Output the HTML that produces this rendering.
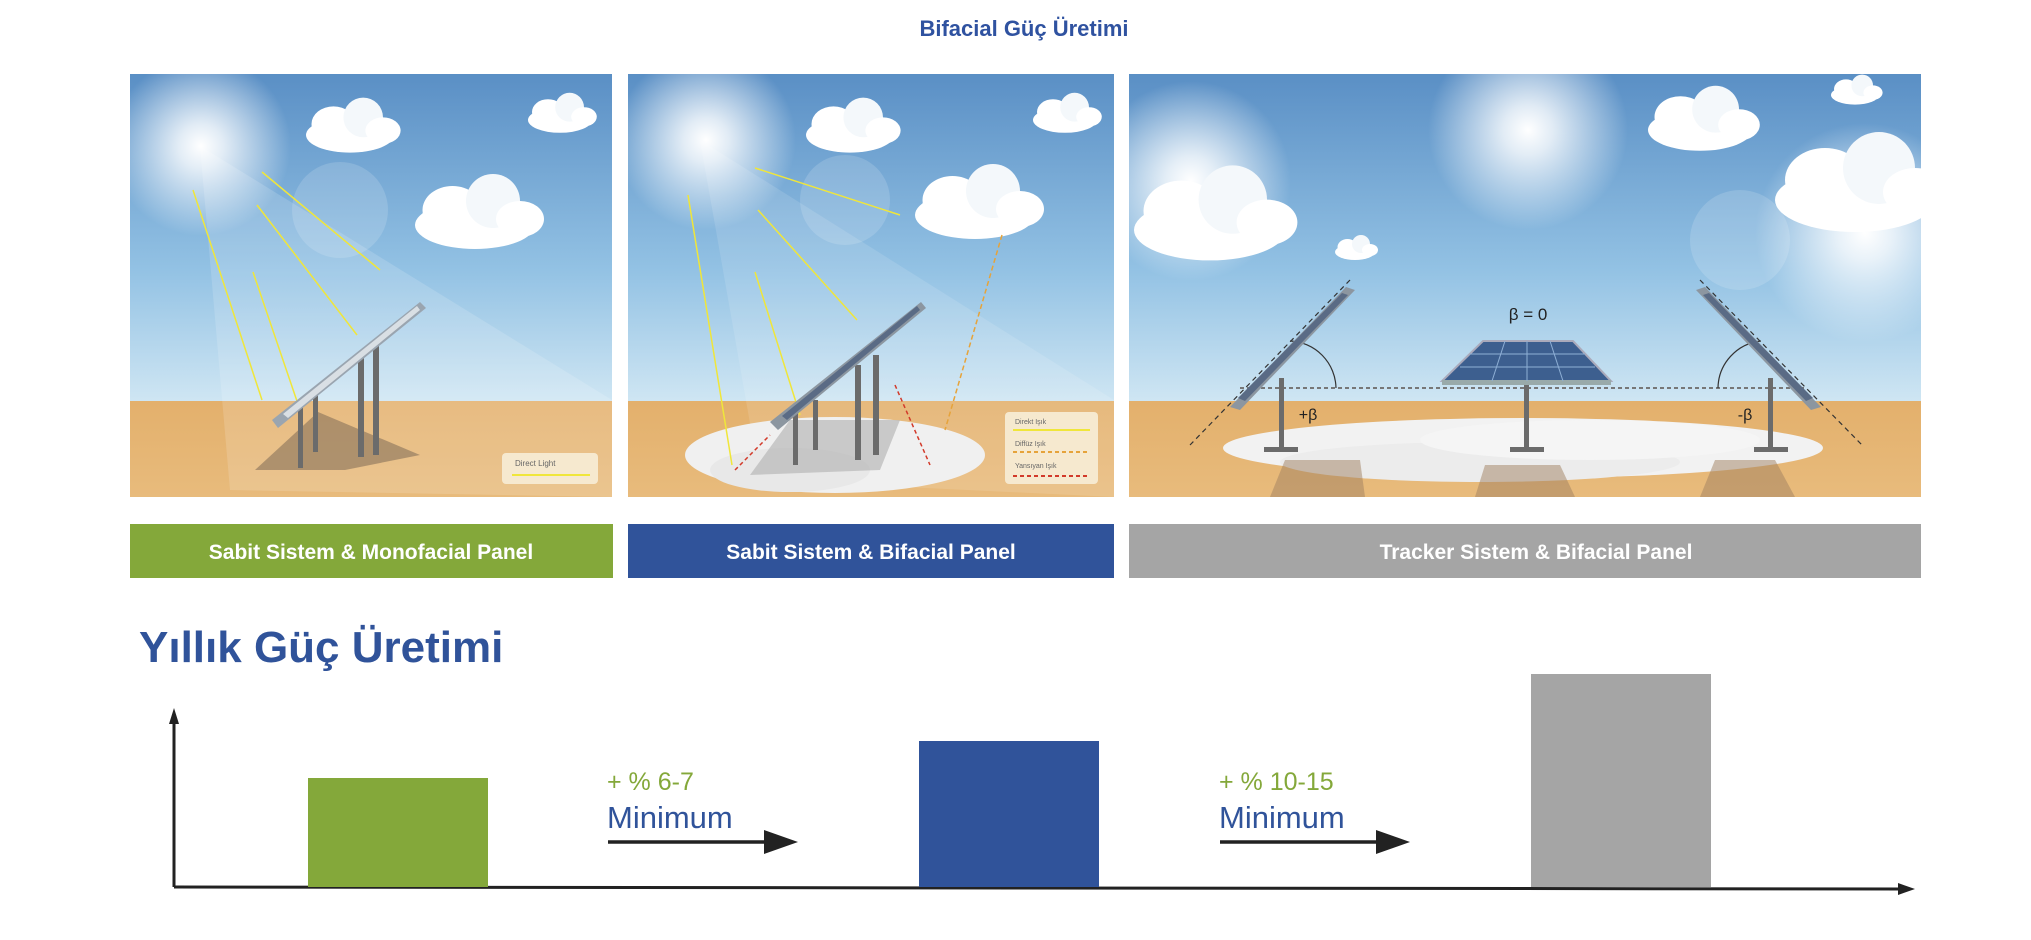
<!DOCTYPE html>
<html><head><meta charset="utf-8"><style>
html,body{margin:0;padding:0;background:#fff;}
svg{display:block}
text{font-family:"Liberation Sans","DejaVu Sans",sans-serif;}
</style></head><body>
<svg width="2031" height="940" viewBox="0 0 2031 940" xmlns="http://www.w3.org/2000/svg">
<defs>
<linearGradient id="sky" x1="0" y1="0" x2="0" y2="1">
<stop offset="0" stop-color="#5a8fc5"/><stop offset="0.6" stop-color="#93c2e4"/><stop offset="1" stop-color="#cfe6f3"/>
</linearGradient>
<linearGradient id="sand" x1="0" y1="0" x2="0" y2="1">
<stop offset="0" stop-color="#e3b06c"/><stop offset="1" stop-color="#e8bb7c"/>
</linearGradient>
<radialGradient id="sun"><stop offset="0" stop-color="#fff" stop-opacity="1"/><stop offset="0.25" stop-color="#fff" stop-opacity="0.8"/><stop offset="1" stop-color="#fff" stop-opacity="0"/></radialGradient>
<clipPath id="c3"><rect x="1129" y="74" width="792" height="423"/></clipPath>
<g id="cloud"><ellipse cx="0" cy="0" rx="40" ry="16" fill="#fff"/><ellipse cx="-15" cy="-10" rx="20" ry="16" fill="#fff"/><ellipse cx="12" cy="-16" rx="18" ry="18" fill="#f4f8fb"/><ellipse cx="30" cy="-4" rx="16" ry="12" fill="#fff"/></g>
</defs>

<text x="1024" y="36" text-anchor="middle" font-size="22" font-weight="bold" fill="#2f52a0">Bifacial Güç Üretimi</text>

<!-- Panel 1 -->
<g>
<rect x="130" y="74" width="482" height="328" fill="url(#sky)"/>
<rect x="130" y="401" width="482" height="96" fill="url(#sand)"/>
<polygon points="200,146 612,400 612,497 230,490" fill="#fff" opacity="0.15"/>
<circle cx="201" cy="146" r="90" fill="url(#sun)"/>
<circle cx="340" cy="210" r="48" fill="#fff" opacity="0.15"/>
<use href="#cloud" transform="translate(350,135) scale(1.1)"/>
<use href="#cloud" transform="translate(560,120) scale(0.8)"/>
<use href="#cloud" transform="translate(475,225) scale(1.5)"/>
<polygon points="255,470 318,412 420,455 345,470" fill="#7d6a55" opacity="0.55"/>
<g stroke="#f0e63a" stroke-width="1.5" fill="none">
<line x1="193" y1="190" x2="262" y2="400"/><line x1="253" y1="272" x2="300" y2="410"/>
<line x1="257" y1="205" x2="357" y2="335"/><line x1="262" y1="172" x2="380" y2="270"/>
</g>
<g fill="#6b6b6b"><rect x="298" y="400" width="5" height="68"/><rect x="313" y="392" width="5" height="60"/><rect x="358" y="355" width="6" height="102"/><rect x="373" y="345" width="6" height="110"/></g>
<polygon points="420,302 272,420 278,428 426,308" fill="#9aa5b0"/>
<polygon points="417,306 283,414 288,418 420,310" fill="#d9dfe4"/>
<rect x="502" y="453" width="96" height="31" rx="4" fill="#f6e9cf"/>
<text x="515" y="466" font-size="8" fill="#666">Direct Light</text>
<line x1="512" y1="475" x2="590" y2="475" stroke="#f0e63a" stroke-width="2"/>
</g>

<!-- Panel 2 -->
<g>
<rect x="628" y="74" width="486" height="328" fill="url(#sky)"/>
<rect x="628" y="401" width="486" height="96" fill="url(#sand)"/>
<polygon points="700,140 1114,400 1114,497 760,480" fill="#fff" opacity="0.12"/>
<circle cx="706" cy="140" r="90" fill="url(#sun)"/>
<circle cx="845" cy="200" r="45" fill="#fff" opacity="0.15"/>
<use href="#cloud" transform="translate(850,135) scale(1.1)"/>
<use href="#cloud" transform="translate(1065,120) scale(0.8)"/>
<use href="#cloud" transform="translate(975,215) scale(1.5)"/>
<ellipse cx="835" cy="455" rx="150" ry="38" fill="#f0f0f0"/>
<ellipse cx="790" cy="470" rx="80" ry="22" fill="#e8e8e8"/>
<polygon points="750,475 790,420 900,420 880,470" fill="#b8b8b8" opacity="0.7"/>
<g stroke="#f0e63a" stroke-width="1.5" fill="none">
<line x1="688" y1="195" x2="732" y2="465"/><line x1="755" y1="272" x2="800" y2="415"/>
<line x1="758" y1="210" x2="857" y2="320"/><line x1="755" y1="168" x2="900" y2="215"/>
</g>
<line x1="1002" y1="235" x2="945" y2="430" stroke="#e6a33a" stroke-width="1.5" stroke-dasharray="5,3"/>
<line x1="895" y1="385" x2="930" y2="465" stroke="#d23a2a" stroke-width="1.5" stroke-dasharray="4,3"/>
<line x1="735" y1="470" x2="770" y2="435" stroke="#d23a2a" stroke-width="1.5" stroke-dasharray="4,3"/>
<g fill="#6b6b6b"><rect x="793" y="410" width="5" height="55"/><rect x="813" y="400" width="5" height="50"/><rect x="855" y="365" width="6" height="95"/><rect x="873" y="355" width="6" height="100"/></g>
<polygon points="921,302 770,422 778,430 926,308" fill="#8c96a0"/>
<polygon points="917,306 782,416 787,420 920,310" fill="#5a6b85"/>
<rect x="1005" y="412" width="93" height="72" rx="4" fill="#f6e9cf"/>
<text x="1015" y="424" font-size="7" fill="#666">Direkt Işık</text>
<line x1="1013" y1="430" x2="1090" y2="430" stroke="#f0e63a" stroke-width="2"/>
<text x="1015" y="446" font-size="7" fill="#666">Diffüz Işık</text>
<line x1="1013" y1="452" x2="1090" y2="452" stroke="#e6a33a" stroke-width="2" stroke-dasharray="4,3"/>
<text x="1015" y="468" font-size="7" fill="#666">Yansıyan Işık</text>
<line x1="1013" y1="476" x2="1090" y2="476" stroke="#d23a2a" stroke-width="2" stroke-dasharray="4,3"/>
</g>

<!-- Panel 3 -->
<g clip-path="url(#c3)">
<rect x="1129" y="74" width="792" height="328" fill="url(#sky)"/>
<rect x="1129" y="401" width="792" height="96" fill="url(#sand)"/>
<circle cx="1191" cy="181" r="100" fill="url(#sun)"/>
<circle cx="1528" cy="130" r="100" fill="url(#sun)"/>
<circle cx="1865" cy="233" r="110" fill="url(#sun)"/>
<circle cx="1740" cy="240" r="50" fill="#fff" opacity="0.15"/>
<use href="#cloud" transform="translate(1210,230) scale(1.9)"/>
<use href="#cloud" transform="translate(1700,130) scale(1.3)"/>
<use href="#cloud" transform="translate(1855,95) scale(0.6)"/>
<use href="#cloud" transform="translate(1855,200) scale(2)"/>
<use href="#cloud" transform="translate(1355,252) scale(0.5)"/>
<ellipse cx="1523" cy="448" rx="300" ry="30" fill="#f2f2f2"/>
<ellipse cx="1480" cy="462" rx="200" ry="20" fill="#ececec"/>
<ellipse cx="1590" cy="440" rx="170" ry="20" fill="#f5f5f5"/>
<polygon points="1270,497 1285,460 1360,460 1365,497" fill="#a08060" opacity="0.5"/>
<polygon points="1475,497 1485,465 1560,465 1575,497" fill="#a08060" opacity="0.5"/>
<polygon points="1700,497 1715,460 1775,460 1795,497" fill="#a08060" opacity="0.5"/>
<g stroke="#333" stroke-width="1.2" stroke-dasharray="5,4" fill="none">
<line x1="1350" y1="280" x2="1190" y2="445"/><line x1="1700" y1="280" x2="1862" y2="445"/>
</g>
<line x1="1240" y1="388" x2="1806" y2="388" stroke="#777" stroke-width="2" stroke-dasharray="4,3"/>
<path d="M1290,341 A48,48 0 0 1 1336,388" stroke="#333" stroke-width="1.2" fill="none"/>
<path d="M1761,341 A48,48 0 0 0 1718,388" stroke="#333" stroke-width="1.2" fill="none"/>
<g fill="#6b6b6b">
<rect x="1279" y="378" width="5" height="72"/><rect x="1264" y="447" width="34" height="5"/>
<rect x="1524" y="385" width="5" height="65"/><rect x="1510" y="447" width="34" height="5"/>
<rect x="1768" y="378" width="5" height="72"/><rect x="1754" y="447" width="34" height="5"/>
</g>
<polygon points="1346,287 1355,290 1240,410 1230,407" fill="#8c96a0"/>
<polygon points="1342,293 1348,295 1245,401 1238,398" fill="#5a6b85"/>
<polygon points="1705,287 1696,290 1811,410 1821,407" fill="#8c96a0"/>
<polygon points="1709,293 1703,295 1806,401 1813,398" fill="#5a6b85"/>
<polygon points="1483,341 1573,341 1611,381 1442,381" fill="#3d5f8f" stroke="#aab" stroke-width="2"/>
<rect x="1442" y="380" width="169" height="5" fill="#9aa"/>
<g stroke="#8fb0d6" stroke-width="1"><line x1="1470" y1="354" x2="1585" y2="354"/><line x1="1460" y1="367" x2="1595" y2="367"/><line x1="1505" y1="341" x2="1492" y2="381"/><line x1="1550" y1="341" x2="1563" y2="381"/><line x1="1527" y1="341" x2="1527" y2="381"/></g>
<text x="1528" y="320" text-anchor="middle" font-size="17" fill="#222">β = 0</text>
<text x="1308" y="420" text-anchor="middle" font-size="16" fill="#222">+β</text>
<text x="1745" y="420" text-anchor="middle" font-size="16" fill="#222">-β</text>
</g>

<!-- Labels -->
<rect x="130" y="524" width="483" height="54" fill="#84a83a"/>
<text x="371" y="559" text-anchor="middle" font-size="21" font-weight="bold" fill="#fff">Sabit Sistem &amp; Monofacial Panel</text>
<rect x="628" y="524" width="486" height="54" fill="#30539a"/>
<text x="871" y="559" text-anchor="middle" font-size="21" font-weight="bold" fill="#fff">Sabit Sistem &amp; Bifacial Panel</text>
<rect x="1129" y="524" width="792" height="54" fill="#a5a5a5"/>
<text x="1536" y="559" text-anchor="middle" font-size="21" font-weight="bold" fill="#fff">Tracker Sistem &amp; Bifacial Panel</text>

<text x="139" y="662" font-size="44" font-weight="bold" fill="#30539a">Yıllık Güç Üretimi</text>

<!-- Chart -->
<line x1="174" y1="716" x2="174" y2="887" stroke="#222" stroke-width="3"/>
<polygon points="174,708 169,724 179,724" fill="#222"/>
<line x1="174" y1="887" x2="1905" y2="889" stroke="#222" stroke-width="3"/>
<polygon points="1915,889 1898,883 1898,895" fill="#222"/>
<rect x="308" y="778" width="180" height="109" fill="#84a83a"/>
<rect x="919" y="741" width="180" height="146" fill="#30539a"/>
<rect x="1531" y="674" width="180" height="213" fill="#a5a5a5"/>

<text x="607" y="790" font-size="25" fill="#84a83a">+ % 6-7</text>
<text x="607" y="828" font-size="31" fill="#30539a">Minimum</text>
<line x1="608" y1="842" x2="768" y2="842" stroke="#222" stroke-width="3.5"/>
<polygon points="798,842 764,830 764,854" fill="#222"/>
<text x="1219" y="790" font-size="25" fill="#84a83a">+ % 10-15</text>
<text x="1219" y="828" font-size="31" fill="#30539a">Minimum</text>
<line x1="1220" y1="842" x2="1380" y2="842" stroke="#222" stroke-width="3.5"/>
<polygon points="1410,842 1376,830 1376,854" fill="#222"/>
</svg>
</body></html>
